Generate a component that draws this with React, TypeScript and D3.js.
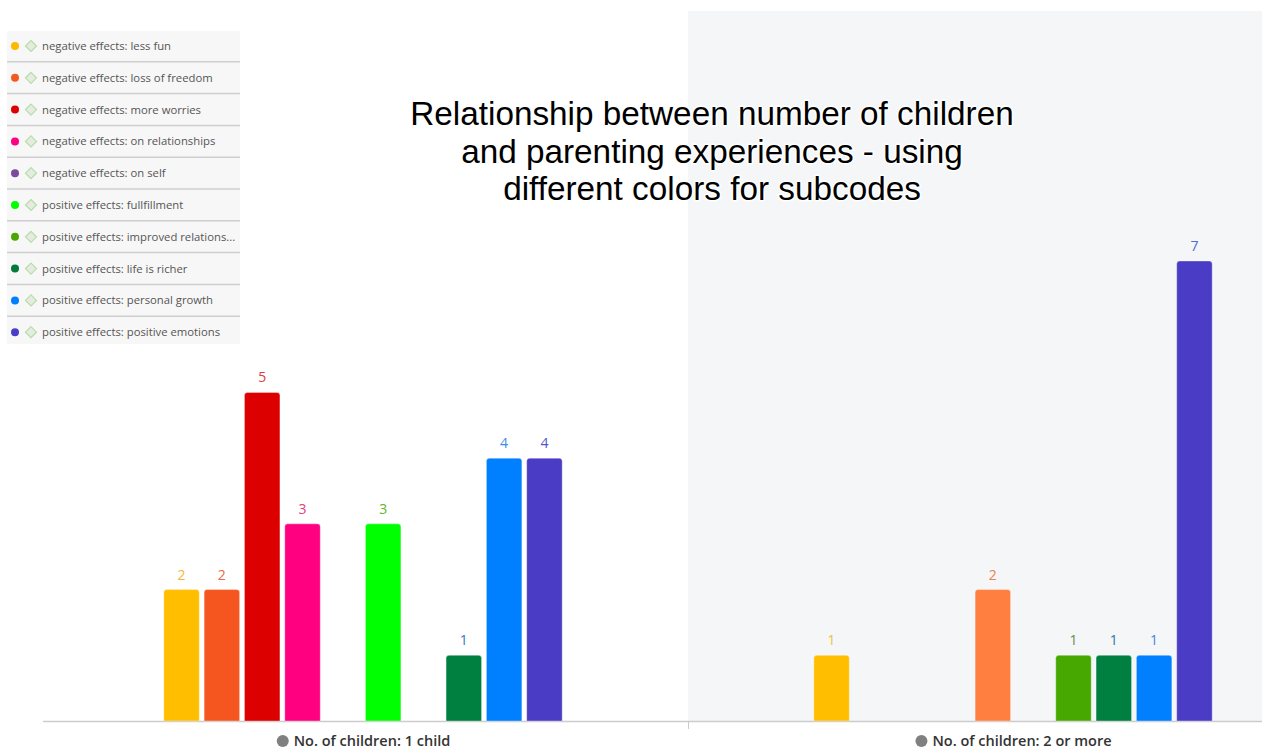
import React, { useLayoutEffect, useRef, useState } from "react";
import * as d3 from "d3";

const categories = ["No. of children: 1 child", "No. of children: 2 or more"];

const seriesNames = [
  "negative effects: less fun",
  "negative effects: loss of freedom",
  "negative effects: more worries",
  "negative effects: on relationships",
  "negative effects: on self",
  "positive effects: fullfillment",
  "positive effects: improved relations...",
  "positive effects: life is richer",
  "positive effects: personal growth",
  "positive effects: positive emotions",
];

const legendColors = [
  "#FFB800", "#F25A22", "#DD0000", "#FF0080", "#7B4A9C",
  "#00FF00", "#4CA600", "#007A3D", "#0080FF", "#4B3CC8",
];

// values per category (null = no bar)
const valuesOneChild: (number | null)[] = [2, 2, 5, 3, null, 3, null, 1, 4, 4];
const valuesTwoOrMore: (number | null)[] = [1, null, null, null, 2, null, 1, 1, 1, 7];

const barColorsOneChild = [
  "#FFBE00", "#F5561F", "#DD0000", "#FF0080", "#7B4A9C",
  "#00FF00", "#4CA600", "#008040", "#0080FF", "#4A3CC5",
];
const barColorsTwoOrMore = [
  "#FFBE00", "#F25A22", "#DD0000", "#FF0080", "#FF7F40",
  "#00FF00", "#46A800", "#008040", "#0080FF", "#4A3CC5",
];
const labelColorsOneChild = [
  "#F3B53C", "#E8694A", "#E03C3C", "#E5407E", "#7B4A9C",
  "#5CB82A", "#4CA600", "#3A78B8", "#3C8CF0", "#4A5BC8",
];
const labelColorsTwoOrMore = [
  "#F3BD45", "#F25A22", "#DD0000", "#FF0080", "#EE8050",
  "#00FF00", "#6A8A55", "#2F7A9A", "#3F86E0", "#4F6FD0",
];

const titleLines = [
  "Relationship between number of children",
  "and parenting experiences - using",
  "different colors for subcodes",
];

const W = 1262;
const H = 749;

function topRoundedBar(x: number, y: number, w: number, h: number, r: number) {
  const rr = Math.min(r, h, w / 2);
  return `M${x},${y + h}V${y + rr}Q${x},${y} ${x + rr},${y}H${x + w - rr}Q${x + w},${y} ${x + w},${y + rr}V${y + h}Z`;
}

export default function App() {
  const baseline = 721;
  const x0 = d3.scaleBand<string>().domain(categories).range([38, 1338]).padding(0);
  const x1 = d3
    .scaleBand<number>()
    .domain(d3.range(seriesNames.length))
    .range([0, x0.bandwidth()])
    .paddingInner(0.12)
    .paddingOuter(3.12);
  const y = d3.scaleLinear().domain([0, 7]).range([baseline, 261]);

  const labelRefs = useRef<(SVGTextElement | null)[]>([]);
  const [labelWidths, setLabelWidths] = useState<number[]>(categories.map((c) => c.length * 6.6));
  useLayoutEffect(() => {
    const ws = labelRefs.current.map((el, i) => (el ? el.getComputedTextLength() : categories[i].length * 6.6));
    setLabelWidths(ws);
  }, []);

  const groups = [
    { cat: categories[0], values: valuesOneChild, colors: barColorsOneChild, labels: labelColorsOneChild },
    { cat: categories[1], values: valuesTwoOrMore, colors: barColorsTwoOrMore, labels: labelColorsTwoOrMore },
  ];

  const band2Start = x0(categories[1])!;

  return (
    <svg width={W} height={H} style={{ position: "absolute", left: 0, top: 0, display: "block" }}>
      <rect x={0} y={0} width={W} height={H} fill="#ffffff" />
      {/* hovered band shading */}
      <rect x={band2Start} y={11} width={W - band2Start} height={baseline - 11} fill="#F5F6F8" />

      {/* axis line */}
      <line x1={43} x2={W} y1={baseline + 0.5} y2={baseline + 0.5} stroke="#CCCCCC" strokeWidth={1.5} />
      <line x1={band2Start + 0.5} x2={band2Start + 0.5} y1={baseline} y2={baseline + 8} stroke="#CCCCCC" strokeWidth={1} />

      {/* bars */}
      {groups.map((g, gi) => (
        <g key={gi} transform={`translate(${x0(g.cat)},0)`}>
          {g.values.map((v, i) => {
            if (v === null) return null;
            const bx = x1(i)!;
            const bw = x1.bandwidth();
            const by = y(v);
            return (
              <g key={i}>
                <path
                  d={topRoundedBar(bx, by, bw, baseline - by, 3)}
                  fill={g.colors[i]}
                  stroke="#ffffff"
                  strokeOpacity={0.35}
                  strokeWidth={1}
                />
                <text
                  x={bx + bw / 2}
                  y={by - 10}
                  textAnchor="middle"
                  fontFamily="'Open Sans', 'Noto Sans', sans-serif"
                  fontSize={14}
                  fill={g.labels[i]}
                >
                  {v}
                </text>
              </g>
            );
          })}
        </g>
      ))}

      {/* x category labels */}
      {categories.map((c, i) => {
        const cx = x0(c)! + x0.bandwidth() / 2 + 9;
        const w = labelWidths[i];
        return (
          <g key={c} transform={`translate(${cx},741)`}>
            <circle cx={-w / 2 - 11} cy={0} r={6} fill="#808080" />
            <text
              ref={(el) => {
                labelRefs.current[i] = el;
              }}
              x={0}
              y={0}
              dy="0.35em"
              textAnchor="middle"
              fontFamily="'Open Sans', 'Noto Sans', sans-serif"
              fontSize={14.5}
              fontWeight={600}
              fill="#333333"
            >
              {c}
            </text>
          </g>
        );
      })}

      {/* legend */}
      <g>
        <rect x={7} y={31} width={233} height={313} fill="#F7F7F7" />
        {seriesNames.map((s, i) => {
          const cy = 46 + i * 31.8;
          return (
            <g key={s}>
              {i > 0 && (
                <line x1={7} x2={240} y1={cy - 16} y2={cy - 16} stroke="#CFCFCF" strokeWidth={1.5} />
              )}
              <circle cx={15} cy={cy} r={4} fill={legendColors[i]} />
              <path
                d={`M${31},${cy - 5.5}L${36.5},${cy}L${31},${cy + 5.5}L${25.5},${cy}Z`}
                fill="#E6EBDF"
                stroke="#B5DDA8"
                strokeWidth={1.2}
              />
              <text
                x={42}
                y={cy}
                dy="0.35em"
                fontFamily="'Open Sans', 'Noto Sans', sans-serif"
                fontSize={11.3}
                fill="#555555"
              >
                {s}
              </text>
            </g>
          );
        })}
      </g>

      {/* title */}
      {titleLines.map((t, i) => (
        <text
          key={t}
          x={712}
          y={125 + i * 37.5}
          textAnchor="middle"
          fontFamily="'Liberation Sans', Arial, sans-serif"
          fontSize={33.3}
          fill="#000000"
          stroke="#ffffff"
          strokeWidth={3}
          strokeLinejoin="round"
          style={{ paintOrder: "stroke" }}
        >
          {t}
        </text>
      ))}
    </svg>
  );
}
